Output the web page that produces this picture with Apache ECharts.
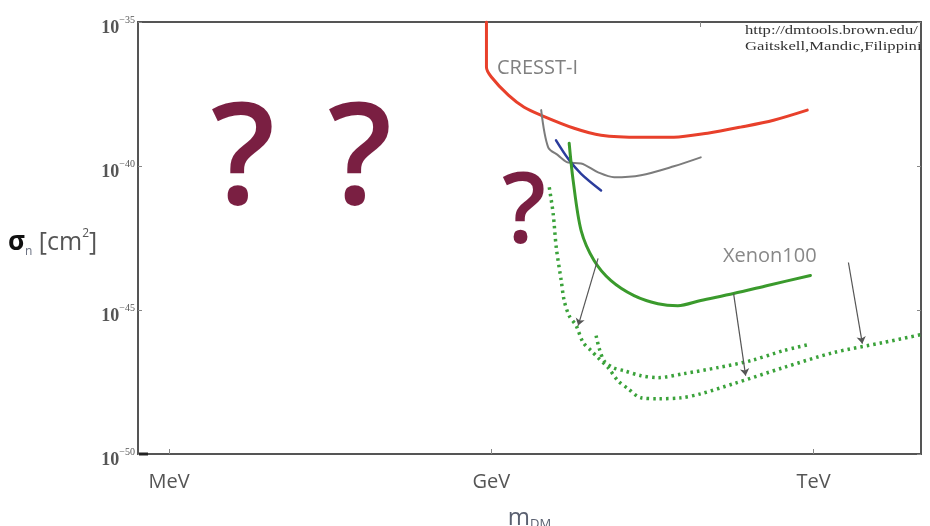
<!DOCTYPE html>
<html>
<head>
<meta charset="utf-8">
<script src="https://cdn.jsdelivr.net/npm/echarts@6/dist/echarts.min.js"></script>
<style>
  html, body { margin: 0; padding: 0; background: #fff; }
  #chart { width: 930px; height: 526px; }
</style>
</head>
<body>
<div id="chart"></div>
<script>
// Dark-matter mass in GeV (plotted as log10), cross-section as log10(sigma / cm^2)
const massTicks = [0.001, 1, 1000];
const massTickNames = ['MeV', 'GeV', 'TeV'];
const topTickMass = [88];
const sigmaTickExps = [-50, -45, -40, -35];

// CRESST-I limit
const cresstMass = [0.90, 0.90, 1.0, 1.44, 2.02, 2.91, 5.9, 10.5, 24.7, 50, 103, 209, 424, 873];
const cresstLogSigma = [-35, -36.57, -36.91, -37.54, -37.96, -38.24, -38.69, -38.93, -39.0, -39.0, -38.86, -38.65, -38.41, -38.06];

// grey limit curve
const greyMass = [2.91, 3.38, 4.19, 5.19, 6.85, 9.86, 13.9, 24.7, 50, 89];
const greyLogSigma = [-38.06, -39.35, -39.63, -39.88, -39.91, -40.22, -40.39, -40.32, -40.01, -39.70];

// blue limit curve
const blueMass = [4.0, 5.19, 6.85, 10.5];
const blueLogSigma = [-39.11, -39.75, -40.27, -40.85];

// Xenon100 limit
const xenonMass = [5.3, 5.77, 6.85, 9.04, 13.0, 21.3, 35.5, 54.5, 89, 180, 373, 935];
const xenonLogSigma = [-39.21, -40.50, -42.24, -43.28, -43.98, -44.50, -44.78, -44.85, -44.67, -44.43, -44.15, -43.80];

// projected reach, long dotted curve
const reachAMass = [3.46, 3.76, 4.02, 4.47, 4.76, 5.30, 6.15, 7.15, 8.49, 9.85, 12.2, 15.1, 18.7, 24.7, 35.5, 58, 89, 180, 525, 1530, 4460, 9840];
const reachALogSigma = [-40.74, -41.65, -42.83, -43.98, -44.67, -45.20, -45.54, -46.13, -46.41, -46.66, -47.00, -47.46, -47.73, -48.05, -48.08, -48.05, -47.91, -47.56, -47.00, -46.48, -46.13, -45.86];

// projected reach, short dotted curve
const reachBMass = [9.44, 10.1, 11.2, 13.6, 17.2, 24.7, 35.5, 62, 128, 260, 525, 897];
const reachBLogSigma = [-45.89, -46.34, -46.76, -47.00, -47.11, -47.28, -47.35, -47.21, -47.00, -46.76, -46.41, -46.20];

// arrows from current limits down to projected reach: [mass, logSigma] start and end
const arrowStartMass = [9.85, 180, 2110];
const arrowStartLogSigma = [-43.21, -44.43, -43.35];
const arrowEndMass = [6.43, 233, 2845];
const arrowEndLogSigma = [-45.54, -47.28, -46.17];

const toPairs = (m, s) => m.map((v, i) => [Math.log10(v), s[i]]);
const tickPositions = massTicks.map(Math.log10);

const chart = echarts.init(document.getElementById('chart'), null, { renderer: 'canvas' });

function curve(name, m, s, color, width, dashed) {
  return {
    name: name,
    type: 'line',
    data: toPairs(m, s),
    symbol: 'none',
    smooth: 0.3,
    silent: true,
    lineStyle: dashed
      ? { color: color, width: width, type: [2.5, 4], cap: 'butt' }
      : { color: color, width: width, cap: 'round' },
    z: 3
  };
}

const qMarkStyle = (size) => ({
  text: '?', font: '600 ' + size + 'px "Open Sans"', fill: '#7a1f42',
  textAlign: 'center', align: 'center', textVerticalAlign: 'middle', verticalAlign: 'middle'
});

const option = {
  animation: false,
  backgroundColor: '#ffffff',
  grid: {
    left: 138, right: 9, top: 22, bottom: 72,
    containLabel: false,
    outerBoundsMode: 'none',
    show: true, borderColor: '#555', borderWidth: 2, backgroundColor: 'transparent'
  },
  xAxis: [
    {
      type: 'value',
      min: -3.29,
      max: 4.0,
      axisLine: { show: true, onZero: false, lineStyle: { color: '#555', width: 2 } },
      axisTick: { show: true, inside: true, length: 5, customValues: tickPositions, lineStyle: { color: '#888' } },
      axisLabel: {
        customValues: tickPositions,
        margin: 18,
        fontFamily: 'Open Sans',
        fontSize: 20,
        color: '#555',
        formatter: function (v) {
          const i = tickPositions.findIndex(p => Math.abs(p - v) < 1e-6);
          return i >= 0 ? massTickNames[i] : '';
        }
      },
      splitLine: { show: false },
      name: '{m|m}{s|DM}',
      nameLocation: 'middle',
      nameGap: 51,
      nameTextStyle: {
        rich: {
          m: { fontFamily: 'Open Sans', fontSize: 24, color: '#5a6070', lineHeight: 26 },
          s: { fontFamily: 'Open Sans', fontSize: 13, color: '#5a6070', lineHeight: 13, verticalAlign: 'bottom' }
        }
      }
    },
    {
      type: 'value',
      position: 'top',
      min: -3.29,
      max: 4.0,
      axisLine: { show: false, onZero: false },
      axisTick: { show: true, inside: true, length: 5, customValues: topTickMass.map(Math.log10), lineStyle: { color: '#888' } },
      axisLabel: { show: false },
      splitLine: { show: false }
    }
  ],
  yAxis: [
    {
      type: 'value',
      min: -50,
      max: -35,
      interval: 5,
      axisLine: { show: true, onZero: false, lineStyle: { color: '#555', width: 2 } },
      axisTick: { show: true, inside: true, length: 4, lineStyle: { color: '#888' } },
      splitLine: { show: false },
      axisLabel: {
        margin: 3,
        padding: [8, 0, 0, 0],
        formatter: function (v) {
          return '{b|10}{s|\u2212' + Math.abs(v) + '}';
        },
        rich: {
          b: { fontFamily: 'Liberation Serif', fontSize: 18, fontWeight: 'bold', color: '#555', lineHeight: 22, verticalAlign: 'bottom' },
          s: { fontFamily: 'Liberation Serif', fontSize: 10, color: '#555', lineHeight: 10, verticalAlign: 'top' }
        }
      }
    },
    {
      type: 'value',
      position: 'right',
      min: -50,
      max: -35,
      interval: 5,
      axisLine: { show: false, onZero: false },
      axisTick: { show: true, inside: true, length: 4, lineStyle: { color: '#888' } },
      axisLabel: { show: false },
      splitLine: { show: false }
    }
  ],
  series: [
    curve('CRESST-I', cresstMass, cresstLogSigma, '#e8402b', 3, false),
    curve('grey limit', greyMass, greyLogSigma, '#7c7c7c', 2, false),
    curve('blue limit', blueMass, blueLogSigma, '#2b3c9c', 2.5, false),
    curve('Xenon100', xenonMass, xenonLogSigma, '#3a9a2c', 3, false),
    curve('reach A', reachAMass, reachALogSigma, '#3aa23a', 3.5, true),
    curve('reach B', reachBMass, reachBLogSigma, '#3aa23a', 3.5, true),
    {
      name: 'arrows',
      type: 'lines',
      coordinateSystem: 'cartesian2d',
      silent: true,
      symbol: ['none', 'arrow'],
      symbolSize: 7,
      lineStyle: { color: '#555', width: 1.2, opacity: 1 },
      data: arrowStartMass.map((m, i) => ({
        coords: [
          [Math.log10(m), arrowStartLogSigma[i]],
          [Math.log10(arrowEndMass[i]), arrowEndLogSigma[i]]
        ]
      })),
      z: 4
    }
  ],
  graphic: [
    {
      type: 'text', x: 8, y: 243,
      style: {
        text: '{a|\u03c3}{n|n}{c| [cm}{d|2}{c|]}',
        textVerticalAlign: 'middle', verticalAlign: 'middle',
        rich: {
          a: { fontFamily: 'Open Sans', fontSize: 26, fontWeight: 'bold', fill: '#111', lineHeight: 30 },
          n: { fontFamily: 'Open Sans', fontSize: 12, fill: '#6a7080', lineHeight: 14, verticalAlign: 'bottom' },
          c: { fontFamily: 'Open Sans', fontSize: 25, fill: '#555', lineHeight: 30 },
          d: { fontFamily: 'Open Sans', fontSize: 12, fill: '#555', lineHeight: 16, verticalAlign: 'top' }
        }
      }
    },
    { type: 'text', x: 243, y: 164, style: qMarkStyle(142) },
    { type: 'text', x: 360, y: 164, style: qMarkStyle(142) },
    { type: 'text', x: 524, y: 215, style: qMarkStyle(97) },
    {
      type: 'text', x: 497, y: 68,
      style: { text: 'CRESST-I', font: '20px "Open Sans"', fill: '#808080', textVerticalAlign: 'middle', verticalAlign: 'middle' }
    },
    {
      type: 'text', x: 723, y: 256,
      style: { text: 'Xenon100', font: '20px "Open Sans"', fill: '#888', textVerticalAlign: 'middle', verticalAlign: 'middle' }
    },
    {
      type: 'text', x: 745, y: 31, scaleX: 1.28,
      style: { text: 'http://dmtools.brown.edu/', font: '13px "Liberation Serif"', fill: '#333', textVerticalAlign: 'middle', verticalAlign: 'middle' }
    },
    {
      type: 'text', x: 745, y: 47, scaleX: 1.28,
      style: { text: 'Gaitskell,Mandic,Filippini', font: '13px "Liberation Serif"', fill: '#333', textVerticalAlign: 'middle', verticalAlign: 'middle' }
    },
    {
      // short heavy stub at the lower-left corner of the frame
      type: 'line', z: 10,
      shape: { x1: 139, y1: 454, x2: 148, y2: 454 },
      style: { stroke: '#222', lineWidth: 3 }
    }
  ]
};

chart.setOption(option);
</script>
</body>
</html>
